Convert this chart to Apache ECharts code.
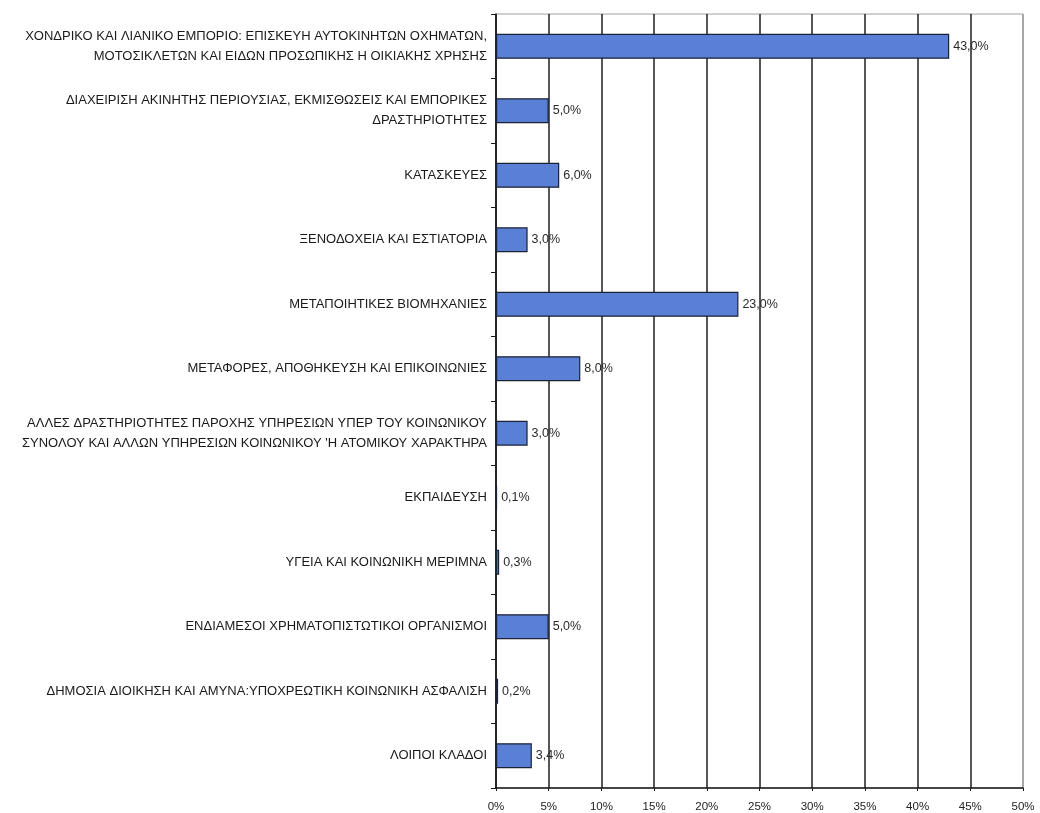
<!DOCTYPE html>
<html>
<head>
<meta charset="utf-8">
<script src="https://cdn.jsdelivr.net/npm/echarts@6/dist/echarts.min.js"></script>
<style>
html,body{margin:0;padding:0;background:#ffffff;}
#chart{width:1040px;height:813px;}
</style>
</head>
<body>
<div id="chart"></div>
<script>
const categories = [
  "ΧΟΝΔΡΙΚΟ ΚΑΙ ΛΙΑΝΙΚΟ ΕΜΠΟΡΙΟ: ΕΠΙΣΚΕΥΗ ΑΥΤΟΚΙΝΗΤΩΝ ΟΧΗΜΑΤΩΝ,\nΜΟΤΟΣΙΚΛΕΤΩΝ ΚΑΙ ΕΙΔΩΝ ΠΡΟΣΩΠΙΚΗΣ Η ΟΙΚΙΑΚΗΣ ΧΡΗΣΗΣ",
  "ΔΙΑΧΕΙΡΙΣΗ ΑΚΙΝΗΤΗΣ ΠΕΡΙΟΥΣΙΑΣ, ΕΚΜΙΣΘΩΣΕΙΣ ΚΑΙ ΕΜΠΟΡΙΚΕΣ\nΔΡΑΣΤΗΡΙΟΤΗΤΕΣ",
  "ΚΑΤΑΣΚΕΥΕΣ",
  "ΞΕΝΟΔΟΧΕΙΑ ΚΑΙ ΕΣΤΙΑΤΟΡΙΑ",
  "ΜΕΤΑΠΟΙΗΤΙΚΕΣ ΒΙΟΜΗΧΑΝΙΕΣ",
  "ΜΕΤΑΦΟΡΕΣ, ΑΠΟΘΗΚΕΥΣΗ ΚΑΙ ΕΠΙΚΟΙΝΩΝΙΕΣ",
  "ΑΛΛΕΣ ΔΡΑΣΤΗΡΙΟΤΗΤΕΣ ΠΑΡΟΧΗΣ ΥΠΗΡΕΣΙΩΝ ΥΠΕΡ ΤΟΥ ΚΟΙΝΩΝΙΚΟΥ\nΣΥΝΟΛΟΥ ΚΑΙ ΑΛΛΩΝ ΥΠΗΡΕΣΙΩΝ ΚΟΙΝΩΝΙΚΟΥ 'Η ΑΤΟΜΙΚΟΥ ΧΑΡΑΚΤΗΡΑ",
  "ΕΚΠΑΙΔΕΥΣΗ",
  "ΥΓΕΙΑ ΚΑΙ ΚΟΙΝΩΝΙΚΗ ΜΕΡΙΜΝΑ",
  "ΕΝΔΙΑΜΕΣΟΙ ΧΡΗΜΑΤΟΠΙΣΤΩΤΙΚΟΙ ΟΡΓΑΝΙΣΜΟΙ",
  "ΔΗΜΟΣΙΑ ΔΙΟΙΚΗΣΗ ΚΑΙ ΑΜΥΝΑ:ΥΠΟΧΡΕΩΤΙΚΗ ΚΟΙΝΩΝΙΚΗ ΑΣΦΑΛΙΣΗ",
  "ΛΟΙΠΟΙ ΚΛΑΔΟΙ"
];
const shares = [43.0, 5.0, 6.0, 3.0, 23.0, 8.0, 3.0, 0.1, 0.3, 5.0, 0.2, 3.4];
const xTicks = [0, 5, 10, 15, 20, 25, 30, 35, 40, 45, 50];

const gridColors = xTicks.map((t, i) => i === xTicks.length - 1 ? '#9a9a9a' : '#1e1e1e');

const chart = echarts.init(document.getElementById('chart'), null, {renderer: 'canvas'});
chart.setOption({
  backgroundColor: '#ffffff',
  animation: false,
  grid: {
    left: 496, right: 17, top: 14, bottom: 24,
    show: true, borderColor: '#a0a0a0', borderWidth: 1,
    containLabel: false
  },
  xAxis: {
    type: 'value',
    min: xTicks[0], max: xTicks[xTicks.length - 1], interval: 5,
    axisLine: {show: true, lineStyle: {color: '#1a1a1a', width: 1.5}},
    axisTick: {show: true, length: 3, lineStyle: {color: '#1a1a1a'}},
    splitLine: {show: true, lineStyle: {color: gridColors, width: 1.5}},
    axisLabel: {
      margin: 13,
      fontFamily: 'Liberation Sans, Arial, sans-serif',
      fontSize: 11.5, color: '#222',
      formatter: v => v + '%'
    }
  },
  yAxis: {
    type: 'category',
    inverse: true,
    data: categories,
    axisLine: {show: true, lineStyle: {color: '#1a1a1a', width: 1.5}},
    axisTick: {show: true, length: 5, lineStyle: {color: '#1a1a1a'}},
    splitLine: {show: false},
    axisLabel: {
      margin: 9,
      fontFamily: 'Liberation Sans, Arial, sans-serif',
      fontSize: 13, color: '#1a1a1a',
      lineHeight: 20, align: 'right'
    }
  },
  series: [{
    type: 'bar',
    data: shares,
    barWidth: 25,
    itemStyle: {color: '#5a80d6', borderColor: '#1b2236', borderWidth: 1.2},
    label: {
      show: true, position: 'right', distance: 4,
      fontFamily: 'Liberation Sans, Arial, sans-serif',
      fontSize: 12.5, color: '#2a2a2a',
      formatter: p => p.value.toFixed(1).replace('.', ',') + '%'
    }
  }]
});
</script>
</body>
</html>
